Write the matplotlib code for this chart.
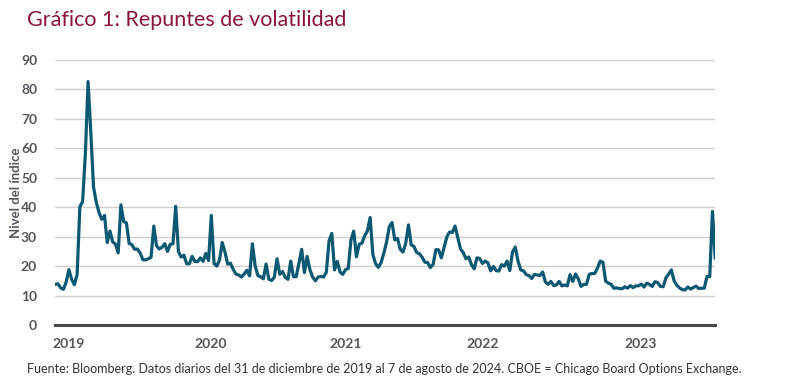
import pandas as pd
import matplotlib.pyplot as plt

# VIX, weekly readings (spikes kept at their peak), 31 dic 2019 -> 7 ago 2024
vix_2020 = [13.8, 14.0, 12.6, 12.1, 14.6, 18.8, 15.5, 13.7, 17.1, 40.1,
            41.9, 57.8, 82.7, 65.5, 46.8, 41.7, 38.2, 35.9, 37.2, 28.0,
            31.9, 28.2, 27.5, 24.5, 40.8, 35.1, 34.7, 27.7, 27.3, 25.7,
            25.8, 24.5, 22.2, 22.1, 22.5, 23.0, 33.6, 26.9, 25.8, 26.4,
            27.6, 25.0, 27.4, 27.6, 40.3, 24.9, 23.1, 23.7, 20.8, 20.8,
            23.3, 21.6, 21.5, 22.8]
vix_2021 = [21.6, 24.3, 21.9, 37.2, 20.9, 20.0, 22.1, 28.0, 24.7, 20.7,
            21.0, 18.9, 17.3, 17.0, 16.3, 17.3, 18.6, 16.7, 27.6, 20.2,
            16.8, 16.4, 15.7, 20.7, 15.6, 15.1, 16.2, 22.5, 17.2, 18.2,
            16.2, 15.5, 21.7, 16.4, 16.4, 21.0, 25.7, 17.8, 23.3, 18.8,
            16.3, 15.0, 16.3, 16.5, 16.3, 17.9, 28.6, 31.1, 18.7, 21.6,
            18.0, 17.2]
vix_2022 = [18.8, 19.2, 28.9, 31.9, 23.2, 27.4, 27.8, 30.3, 32.0, 36.5,
            23.9, 20.8, 19.6, 21.2, 24.4, 28.2, 33.4, 34.8, 28.9, 29.4,
            25.7, 24.8, 27.8, 34.0, 27.2, 26.7, 24.6, 24.2, 23.0, 21.3,
            21.2, 19.5, 20.6, 25.6, 25.5, 22.8, 26.3, 29.9, 31.6, 31.4,
            33.6, 29.7, 25.8, 24.6, 22.5, 23.1, 20.5, 19.1, 22.8, 22.6,
            20.9, 21.7]
vix_2023 = [21.1, 18.4, 19.9, 18.5, 18.3, 20.5, 20.0, 21.7, 18.5, 24.8,
            26.5, 21.7, 18.7, 18.4, 17.1, 16.8, 15.8, 17.2, 17.0, 16.8,
            18.0, 14.6, 13.8, 14.8, 13.4, 13.6, 14.8, 13.3, 13.6, 13.3,
            17.1, 14.8, 17.3, 15.7, 13.1, 13.8, 13.8, 17.2, 17.5, 17.5,
            19.3, 21.7, 21.3, 14.9, 14.2, 13.8, 12.5, 12.6, 12.4, 12.3,
            13.0, 12.5]
vix_2024 = [13.4, 12.7, 13.3, 13.3, 13.9, 12.9, 14.2, 13.8, 13.1, 14.7,
            14.4, 13.1, 13.0, 16.0, 17.3, 18.7, 15.0, 13.5, 12.6, 12.0,
            11.9, 12.9, 12.2, 12.7, 13.2, 12.4, 12.5, 12.5, 16.5, 16.4,
            38.6, 22.8]

values = vix_2020 + vix_2021 + vix_2022 + vix_2023 + vix_2024
dates = pd.date_range('2019-12-31', '2024-08-07', periods=len(values))

tick_dates = pd.to_datetime(['2020-02-02', '2021-01-29', '2022-01-09',
                             '2022-12-23', '2024-01-29'])
tick_labels = ['2019', '2020', '2021', '2022', '2023']

line_color = '#0b5872'
gray = '#54575c'

fig = plt.figure(figsize=(8, 3.83), dpi=100)
ax = fig.add_axes([0.069, 0.1514, 0.825, 0.692])

ax.plot(dates, values, color=line_color, lw=2.3, solid_joinstyle='round')

ax.set_ylim(0, 90)
ax.set_xlim(dates[0], dates[-1])
ax.set_yticks(range(0, 91, 10))
ax.set_xticks(tick_dates)
ax.set_xticklabels(tick_labels)
ax.grid(axis='y', color='#cfcfcf', lw=1)
ax.set_axisbelow(True)

for s in ['top', 'right', 'left']:
    ax.spines[s].set_visible(False)
ax.spines['bottom'].set_color('#4a4a4a')
ax.spines['bottom'].set_linewidth(2.2)
ax.spines['bottom'].set_zorder(5)

ax.tick_params(axis='both', length=0, labelcolor=gray)
ax.tick_params(axis='y', pad=13)
ax.tick_params(axis='x', pad=9)
for lab in ax.get_xticklabels() + ax.get_yticklabels():
    lab.set_fontfamily('Lato')
    lab.set_fontweight('bold')
    lab.set_fontsize(10)

ax.set_ylabel('Nivel del índice', fontfamily='Lato', fontweight='bold',
              fontsize=9.5, color=gray)
ax.yaxis.set_label_coords(-0.05, 0.5)

fig.text(0.034, 0.948, 'Gráfico 1: Repuntes de volatilidad', fontfamily='Lato',
         fontsize=15.5, color='#8a1538', va='center', ha='left')
fig.text(0.034, 0.036,
         'Fuente: Bloomberg. Datos diarios del 31 de diciembre de 2019 al 7 de agosto de 2024. '
         'CBOE = Chicago Board Options Exchange.',
         fontfamily='Lato', fontsize=9.0, color='#333333', va='center', ha='left')

fig.savefig('out.png', dpi=100)
